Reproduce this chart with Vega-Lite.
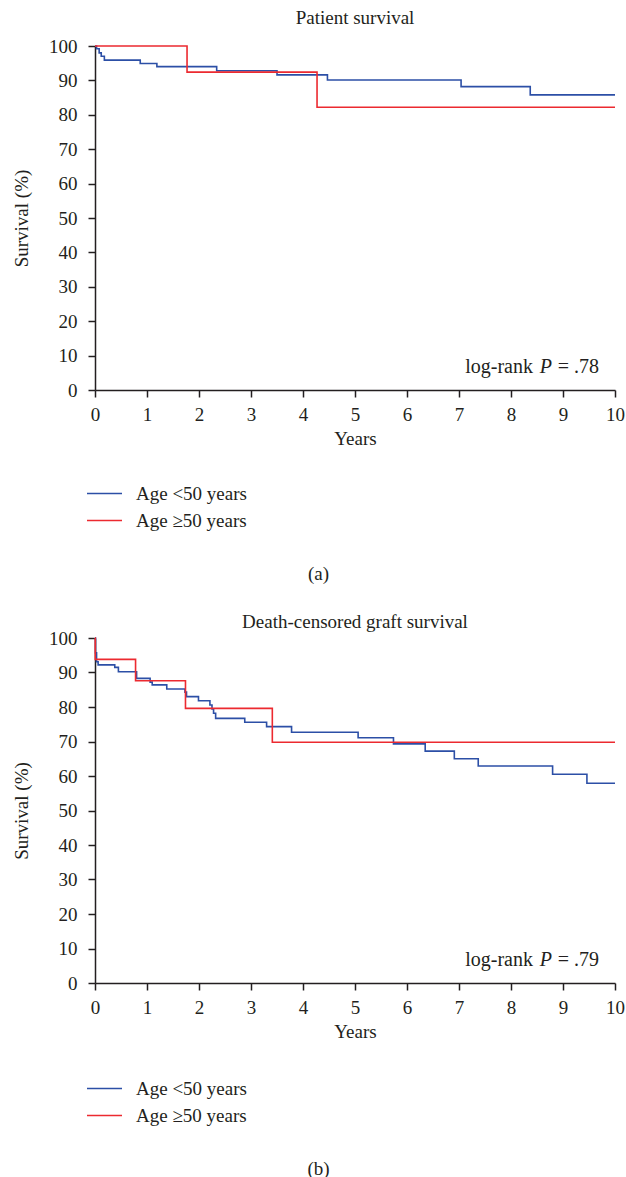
{
  "$schema": "https://vega.github.io/schema/vega-lite/v6.json",
  "padding": {"left": 12, "top": 9, "right": 8, "bottom": 0},
  "background": "white",
  "datasets": {
    "km": [
      {"panel": "a", "group": "Age <50 years", "t": 0, "s": 100},
      {"panel": "a", "group": "Age <50 years", "t": 0.03, "s": 99.2},
      {"panel": "a", "group": "Age <50 years", "t": 0.08, "s": 98.0},
      {"panel": "a", "group": "Age <50 years", "t": 0.12, "s": 97.0},
      {"panel": "a", "group": "Age <50 years", "t": 0.18, "s": 95.9},
      {"panel": "a", "group": "Age <50 years", "t": 0.87, "s": 94.9},
      {"panel": "a", "group": "Age <50 years", "t": 1.19, "s": 94.0},
      {"panel": "a", "group": "Age <50 years", "t": 2.34, "s": 92.8},
      {"panel": "a", "group": "Age <50 years", "t": 3.5, "s": 91.6},
      {"panel": "a", "group": "Age <50 years", "t": 4.47, "s": 90.1},
      {"panel": "a", "group": "Age <50 years", "t": 7.04, "s": 88.2},
      {"panel": "a", "group": "Age <50 years", "t": 8.37, "s": 85.8},
      {"panel": "a", "group": "Age <50 years", "t": 10, "s": 85.8},
      {"panel": "a", "group": "Age ≥50 years", "t": 0, "s": 100},
      {"panel": "a", "group": "Age ≥50 years", "t": 1.77, "s": 92.4},
      {"panel": "a", "group": "Age ≥50 years", "t": 4.27, "s": 82.2},
      {"panel": "a", "group": "Age ≥50 years", "t": 10, "s": 82.2},
      {"panel": "b", "group": "Age <50 years", "t": 0, "s": 100},
      {"panel": "b", "group": "Age <50 years", "t": 0.01, "s": 95.7},
      {"panel": "b", "group": "Age <50 years", "t": 0.03, "s": 93.1},
      {"panel": "b", "group": "Age <50 years", "t": 0.06, "s": 92.2},
      {"panel": "b", "group": "Age <50 years", "t": 0.38, "s": 91.5},
      {"panel": "b", "group": "Age <50 years", "t": 0.45, "s": 90.2},
      {"panel": "b", "group": "Age <50 years", "t": 0.8, "s": 88.3},
      {"panel": "b", "group": "Age <50 years", "t": 1.06, "s": 87.2},
      {"panel": "b", "group": "Age <50 years", "t": 1.1, "s": 86.4},
      {"panel": "b", "group": "Age <50 years", "t": 1.38, "s": 85.2},
      {"panel": "b", "group": "Age <50 years", "t": 1.73, "s": 84.3},
      {"panel": "b", "group": "Age <50 years", "t": 1.76, "s": 83.0},
      {"panel": "b", "group": "Age <50 years", "t": 1.99, "s": 81.8},
      {"panel": "b", "group": "Age <50 years", "t": 2.21, "s": 80.6},
      {"panel": "b", "group": "Age <50 years", "t": 2.25, "s": 79.4},
      {"panel": "b", "group": "Age <50 years", "t": 2.28, "s": 78.2},
      {"panel": "b", "group": "Age <50 years", "t": 2.32, "s": 76.7},
      {"panel": "b", "group": "Age <50 years", "t": 2.88, "s": 75.6},
      {"panel": "b", "group": "Age <50 years", "t": 3.3, "s": 74.3},
      {"panel": "b", "group": "Age <50 years", "t": 3.78, "s": 72.7},
      {"panel": "b", "group": "Age <50 years", "t": 5.06, "s": 71.1},
      {"panel": "b", "group": "Age <50 years", "t": 5.74, "s": 69.3},
      {"panel": "b", "group": "Age <50 years", "t": 6.35, "s": 67.2},
      {"panel": "b", "group": "Age <50 years", "t": 6.91, "s": 65.0},
      {"panel": "b", "group": "Age <50 years", "t": 7.37, "s": 62.9},
      {"panel": "b", "group": "Age <50 years", "t": 8.8, "s": 60.5},
      {"panel": "b", "group": "Age <50 years", "t": 9.46, "s": 57.9},
      {"panel": "b", "group": "Age <50 years", "t": 10, "s": 57.9},
      {"panel": "b", "group": "Age ≥50 years", "t": 0, "s": 100},
      {"panel": "b", "group": "Age ≥50 years", "t": 0.005, "s": 93.8},
      {"panel": "b", "group": "Age ≥50 years", "t": 0.78, "s": 87.6},
      {"panel": "b", "group": "Age ≥50 years", "t": 1.74, "s": 79.6},
      {"panel": "b", "group": "Age ≥50 years", "t": 3.41, "s": 69.8},
      {"panel": "b", "group": "Age ≥50 years", "t": 10, "s": 69.8}
    ],
    "notes": [
      {"panel": "a", "lead": "log-rank", "p": "P", "tail": "= .78"},
      {"panel": "b", "lead": "log-rank", "p": "P", "tail": "= .79"}
    ]
  },
  "config": {
    "font": "Liberation Serif",
    "view": {"stroke": null},
    "axis": {
      "labelFont": "Liberation Serif", "titleFont": "Liberation Serif",
      "labelFontSize": 19, "titleFontSize": 19, "titleFontWeight": "normal",
      "labelColor": "#231f20", "titleColor": "#231f20",
      "domainColor": "#231f20", "tickColor": "#231f20",
      "domainWidth": 1.5, "tickWidth": 1.5, "tickSize": 7, "grid": false,
      "labelOverlap": false
    },
    "axisX": {"labelPadding": 8, "titlePadding": 5, "labelFlush": false},
    "axisY": {"labelPadding": 11, "titlePadding": 17},
    "title": {"font": "Liberation Serif", "fontSize": 19, "fontWeight": "normal", "color": "#231f20"},
    "legend": {"labelFont": "Liberation Serif", "labelFontSize": 19, "labelColor": "#231f20"},
    "concat": {"spacing": 29}
  },
  "resolve": {"scale": {"color": "independent"}, "legend": {"color": "independent"}},
  "vconcat": [
    {
      "title": {"text": "(a)", "orient": "bottom", "anchor": "middle", "offset": 31},
      "resolve": {"scale": {"color": "independent"}, "legend": {"color": "independent"}},
      "vconcat": [
        {
          "width": 520, "height": 344,
          "title": {"text": "Patient survival", "offset": 9},
          "layer": [
            {
              "data": {"name": "km"},
              "transform": [{"filter": "datum.panel === 'a'"}],
              "mark": {"type": "line", "interpolate": "step-after", "strokeWidth": 1.6},
              "encoding": {
                "x": {"field": "t", "type": "quantitative", "scale": {"domain": [0, 10]},
                      "axis": {"title": "Years", "values": [0,1,2,3,4,5,6,7,8,9,10], "labelOverlap": false}},
                "y": {"field": "s", "type": "quantitative", "scale": {"domain": [0, 100]},
                      "axis": {"title": "Survival (%)", "values": [0,10,20,30,40,50,60,70,80,90,100], "tickCount": 11, "labelOverlap": false, "labelSeparation": 0}},
                "color": {"field": "group", "type": "nominal",
                          "scale": {"domain": ["Age <50 years", "Age ≥50 years"], "range": ["#2c4fa6", "#ec2a30"]},
                          "legend": {"title": null, "orient": "none", "legendX": -9, "legendY": 434,
                                     "symbolType": "stroke", "symbolSize": 1225, "symbolStrokeWidth": 1.5,
                                     "labelOffset": 13, "rowPadding": 0, "clipHeight": 27}}
              }
            },
            {
              "data": {"name": "notes"},
              "transform": [{"filter": "datum.panel === 'a'"}],
              "mark": {"type": "text", "align": "right", "baseline": "alphabetic", "fontSize": 20, "dx": -16, "color": "#231f20"},
              "encoding": {"x": {"datum": 10}, "y": {"datum": 5}, "text": {"field": "tail"}}
            },
            {
              "data": {"name": "notes"},
              "transform": [{"filter": "datum.panel === 'a'"}],
              "mark": {"type": "text", "align": "right", "baseline": "alphabetic", "fontSize": 20, "fontStyle": "italic", "dx": -63, "color": "#231f20"},
              "encoding": {"x": {"datum": 10}, "y": {"datum": 5}, "text": {"field": "p"}}
            },
            {
              "data": {"name": "notes"},
              "transform": [{"filter": "datum.panel === 'a'"}],
              "mark": {"type": "text", "align": "right", "baseline": "alphabetic", "fontSize": 20, "dx": -82, "color": "#231f20"},
              "encoding": {"x": {"datum": 10}, "y": {"datum": 5}, "text": {"field": "lead"}}
            }
          ]
        }
      ]
    },
    {
      "title": {"text": "(b)", "orient": "bottom", "anchor": "middle", "offset": 31},
      "resolve": {"scale": {"color": "independent"}, "legend": {"color": "independent"}},
      "vconcat": [
        {
          "width": 520, "height": 345,
          "title": {"text": "Death-censored graft survival", "offset": -3},
          "layer": [
            {
              "data": {"name": "km"},
              "transform": [{"filter": "datum.panel === 'b'"}],
              "mark": {"type": "line", "interpolate": "step-after", "strokeWidth": 1.6},
              "encoding": {
                "x": {"field": "t", "type": "quantitative", "scale": {"domain": [0, 10]},
                      "axis": {"title": "Years", "values": [0,1,2,3,4,5,6,7,8,9,10], "labelOverlap": false}},
                "y": {"field": "s", "type": "quantitative", "scale": {"domain": [0, 100]},
                      "axis": {"title": "Survival (%)", "values": [0,10,20,30,40,50,60,70,80,90,100], "tickCount": 11, "labelOverlap": false, "labelSeparation": 0}},
                "color": {"field": "group", "type": "nominal",
                          "scale": {"domain": ["Age <50 years", "Age ≥50 years"], "range": ["#2c4fa6", "#ec2a30"]},
                          "legend": {"title": null, "orient": "none", "legendX": -9, "legendY": 437,
                                     "symbolType": "stroke", "symbolSize": 1225, "symbolStrokeWidth": 1.5,
                                     "labelOffset": 13, "rowPadding": 0, "clipHeight": 27}}
              }
            },
            {
              "data": {"name": "notes"},
              "transform": [{"filter": "datum.panel === 'b'"}],
              "mark": {"type": "text", "align": "right", "baseline": "alphabetic", "fontSize": 20, "dx": -16, "color": "#231f20"},
              "encoding": {"x": {"datum": 10}, "y": {"datum": 5}, "text": {"field": "tail"}}
            },
            {
              "data": {"name": "notes"},
              "transform": [{"filter": "datum.panel === 'b'"}],
              "mark": {"type": "text", "align": "right", "baseline": "alphabetic", "fontSize": 20, "fontStyle": "italic", "dx": -63, "color": "#231f20"},
              "encoding": {"x": {"datum": 10}, "y": {"datum": 5}, "text": {"field": "p"}}
            },
            {
              "data": {"name": "notes"},
              "transform": [{"filter": "datum.panel === 'b'"}],
              "mark": {"type": "text", "align": "right", "baseline": "alphabetic", "fontSize": 20, "dx": -82, "color": "#231f20"},
              "encoding": {"x": {"datum": 10}, "y": {"datum": 5}, "text": {"field": "lead"}}
            }
          ]
        }
      ]
    }
  ]
}
